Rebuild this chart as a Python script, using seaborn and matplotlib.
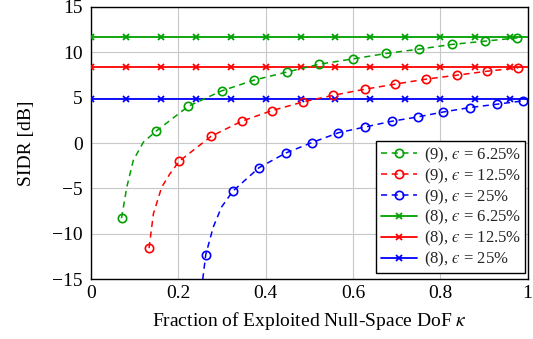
import matplotlib
matplotlib.use("Agg")
import matplotlib.pyplot as plt
from matplotlib.lines import Line2D
import seaborn as sns
import pandas as pd

# ---- data ----
# dashed curves, eq. (9): marker points
g9_x = [0.070, 0.149, 0.223, 0.299, 0.373, 0.450, 0.523, 0.601, 0.676, 0.752, 0.826, 0.903, 0.977]
g9_y = [-8.26, 1.30, 4.05, 5.74, 6.92, 7.83, 8.68, 9.27, 9.86, 10.34, 10.85, 11.22, 11.58]
r9_x = [0.133, 0.202, 0.275, 0.345, 0.415, 0.486, 0.555, 0.628, 0.696, 0.767, 0.838, 0.908, 0.979]
r9_y = [-11.57, -2.01, 0.74, 2.40, 3.58, 4.53, 5.26, 5.93, 6.48, 7.03, 7.47, 7.91, 8.28]
b9_x = [0.263, 0.325, 0.385, 0.446, 0.506, 0.567, 0.628, 0.689, 0.748, 0.807, 0.868, 0.929, 0.989]
b9_y = [-12.27, -5.29, -2.71, -1.10, 0.05, 1.14, 1.77, 2.40, 2.87, 3.42, 3.91, 4.27, 4.64]
# extra points read along the steep part of each dashed curve (no marker)
g9_extra_x = [0.082, 0.097, 0.120]
g9_extra_y = [-4.85, -1.90, 0.10]
r9_extra_x = [0.143, 0.162, 0.181]
r9_extra_y = [-7.78, -4.85, -3.37]
b9_extra_x = [0.256, 0.280, 0.299]
b9_extra_y = [-15.0, -9.26, -7.05]

# solid lines, eq. (8)
flat_x = [0.00, 0.08, 0.16, 0.24, 0.32, 0.40, 0.48, 0.56, 0.64, 0.72, 0.80, 0.88, 0.96, 1.00]
g8_level = 11.7
r8_level = 8.4
b8_level = 4.8

labels = ["(9), $\u03f5$ = 6.25%", "(9), $\u03f5$ = 12.5%", "(9), $\u03f5$ = 25%",
          "(8), $\u03f5$ = 6.25%", "(8), $\u03f5$ = 12.5%", "(8), $\u03f5$ = 25%"]
xticks = [0, 0.2, 0.4, 0.6, 0.8, 1]
yticks = [-15, -10, -5, 0, 5, 10, 15]

GREEN = "#00a000"
RED = "#ff0000"
BLUE = "#0000ff"

sns.set_theme(style="whitegrid")
plt.rcParams["font.family"] = ["Liberation Serif", "DejaVu Serif"]
plt.rcParams["mathtext.fontset"] = "stix"

fig = plt.figure(figsize=(5.33, 3.39), dpi=100)
ax = fig.add_axes([0.1707, 0.176, 0.8190, 0.804])
ax.set_facecolor("white")

DASH = (0, (4, 3))

def dashed_curve(mx, my, ex, ey, color):
    pts = sorted(zip(list(mx) + list(ex), list(my) + list(ey)))
    df = pd.DataFrame(pts, columns=["x", "y"])
    sns.lineplot(data=df, x="x", y="y", ax=ax, color=color, linewidth=1.1,
                 linestyle=DASH, sort=False, estimator=None, zorder=3)
    dfm = pd.DataFrame({"x": mx, "y": my})
    ax.plot(dfm["x"], dfm["y"], linestyle="none", marker="o", markersize=6,
            markerfacecolor="none", markeredgecolor=color, markeredgewidth=1.2, zorder=4)

def flat_line(level, color):
    df = pd.DataFrame({"x": flat_x, "y": [level] * len(flat_x)})
    sns.lineplot(data=df, x="x", y="y", ax=ax, color=color, linewidth=1.3,
                 marker="x", markersize=4, markeredgewidth=1.3, markeredgecolor=color,
                 markevery=list(range(len(flat_x) - 1)), sort=False, estimator=None, zorder=3)

flat_line(g8_level, GREEN)
flat_line(r8_level, RED)
flat_line(b8_level, BLUE)
dashed_curve(g9_x, g9_y, g9_extra_x, g9_extra_y, GREEN)
dashed_curve(r9_x, r9_y, r9_extra_x, r9_extra_y, RED)
dashed_curve(b9_x, b9_y, b9_extra_x, b9_extra_y, BLUE)

ax.set_xlim(0, 1)
ax.set_ylim(-15, 15)
ax.set_xticks(xticks)
ax.set_xticklabels(["0", "0.2", "0.4", "0.6", "0.8", "1"])
ax.set_yticks(yticks)
ax.set_yticklabels(["\u221215", "\u221210", "\u22125", "0", "5", "10", "15"])
ax.tick_params(axis="both", length=0, labelsize=14, colors="black")
ax.tick_params(axis="y", pad=6)
ax.tick_params(axis="x", pad=4)
ax.grid(True, color="#c8c8c8", linewidth=0.8)
for sp in ax.spines.values():
    sp.set_color("black")
    sp.set_linewidth(1.0)

ax.set_xlabel(r"Fraction of Exploited Null-Space DoF $\kappa$", fontsize=14, color="black", labelpad=6)
ax.set_ylabel("SIDR [dB]", fontsize=14, color="black", labelpad=12)

handles = []
for c in [GREEN, RED, BLUE]:
    handles.append(Line2D([], [], color=c, linewidth=1.1, linestyle=DASH, marker="o", markersize=6,
                          markerfacecolor="none", markeredgecolor=c, markeredgewidth=1.2))
for c in [GREEN, RED, BLUE]:
    handles.append(Line2D([], [], color=c, linewidth=1.3, marker="x", markersize=4,
                          markeredgewidth=1.3, markeredgecolor=c))
leg = ax.legend(handles, labels, loc="lower right", bbox_to_anchor=(0.995, 0.022),
                borderaxespad=0, fontsize=12, frameon=True, fancybox=False,
                edgecolor="black", framealpha=1, handlelength=2.2, handletextpad=0.4,
                labelspacing=0.1, borderpad=0.25)
leg.get_frame().set_linewidth(1.0)
leg.set_zorder(10)

fig.savefig("out.png", dpi=100, facecolor="white")
